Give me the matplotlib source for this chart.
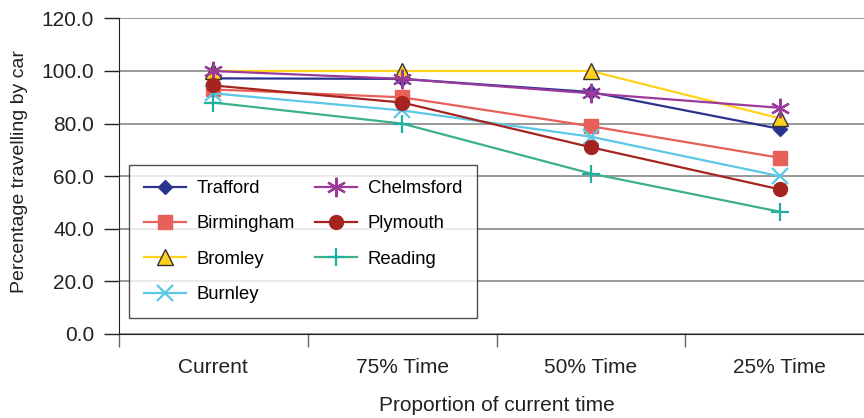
import matplotlib.pyplot as plt
from matplotlib.ticker import FormatStrFormatter

plt.rcParams['font.family'] = ['Liberation Sans', 'DejaVu Sans']

categories = ["Current", "75% Time", "50% Time", "25% Time"]

trafford = [97.2, 97.0, 92.0, 78.0]
birmingham = [93.0, 90.0, 79.0, 67.0]
bromley = [100.0, 100.0, 100.0, 82.0]
burnley = [91.5, 85.0, 75.0, 60.0]
chelmsford = [100.0, 97.0, 91.5, 86.0]
plymouth = [94.5, 88.0, 71.0, 55.0]
reading = [88.0, 80.0, 61.0, 46.5]

# name, values, line colour, marker, marker face, marker edge, size
series = [
    ("Trafford", trafford, "#2b3390", "D", "#2b3390", "#2b3390", 7),
    ("Birmingham", birmingham, "#e8605a", "s", "#e8605a", "#e8605a", 10),
    ("Bromley", bromley, "#ffd11a", "^", "#ffd11a", "#333333", 11),
    ("Burnley", burnley, "#5bc8e6", "x", "#5bc8e6", "#5bc8e6", 12),
    ("Chelmsford", chelmsford, "#9b3a9b", (6, 2, 0), "#9b3a9b", "#9b3a9b", 14),
    ("Plymouth", plymouth, "#a52420", "o", "#a52420", "#a52420", 10),
    ("Reading", reading, "#3cb08a", "+", "#20b0a0", "#20b0a0", 13),
]

fig = plt.figure(figsize=(8.64, 4.18), dpi=100)
ax = fig.add_axes([0.1377, 0.201, 0.874, 0.755])

x = range(len(categories))
for name, vals, col, mk, mfc, mec, ms in series:
    ax.plot(x, vals, color=col, lw=1.6, marker=mk, markersize=ms,
            markerfacecolor=mfc, markeredgecolor=mec,
            markeredgewidth=1.6 if mk in ("x", "+", (6, 2, 0)) else 1.0,
            label=name, zorder=3)

ax.set_ylim(0, 120)
ax.set_yticks(range(0, 121, 20))
ax.yaxis.set_major_formatter(FormatStrFormatter('%.1f'))
ax.set_xlim(-0.5, 3.5)
ax.set_xticks(list(x))
ax.set_xticklabels(categories)
ax.set_xticks([-0.5, 0.5, 1.5, 2.5, 3.5], minor=True)
ax.tick_params(axis='x', which='major', length=0, pad=17, labelsize=15, colors='#222222')
ax.tick_params(axis='x', which='minor', length=9, width=1, color='#666666')
ax.tick_params(axis='y', length=11, width=1, pad=7, labelsize=15, colors='#222222')

ax.grid(axis='y', color='#888888', lw=1.2)
ax.set_axisbelow(True)
for side in ("top", "right"):
    ax.spines[side].set_visible(False)
ax.spines['left'].set_color('#222222')
ax.spines['bottom'].set_color('#222222')

ax.set_ylabel("Percentage travelling by car", fontsize=14, color='#222222')
ax.yaxis.set_label_coords(-0.121, 0.516)
ax.set_xlabel("Proportion of current time", fontsize=15, color='#222222', labelpad=14)

leg = ax.legend(ncol=2, loc='lower left', bbox_to_anchor=(0.013, 0.05),
                borderaxespad=0, frameon=True, fancybox=False, edgecolor='#222222',
                fontsize=13.3, handlelength=2.3, handletextpad=0.55,
                labelspacing=1.0, columnspacing=1.1, borderpad=0.8)
leg.get_frame().set_linewidth(1.0)

fig.savefig("out.png", dpi=100)
